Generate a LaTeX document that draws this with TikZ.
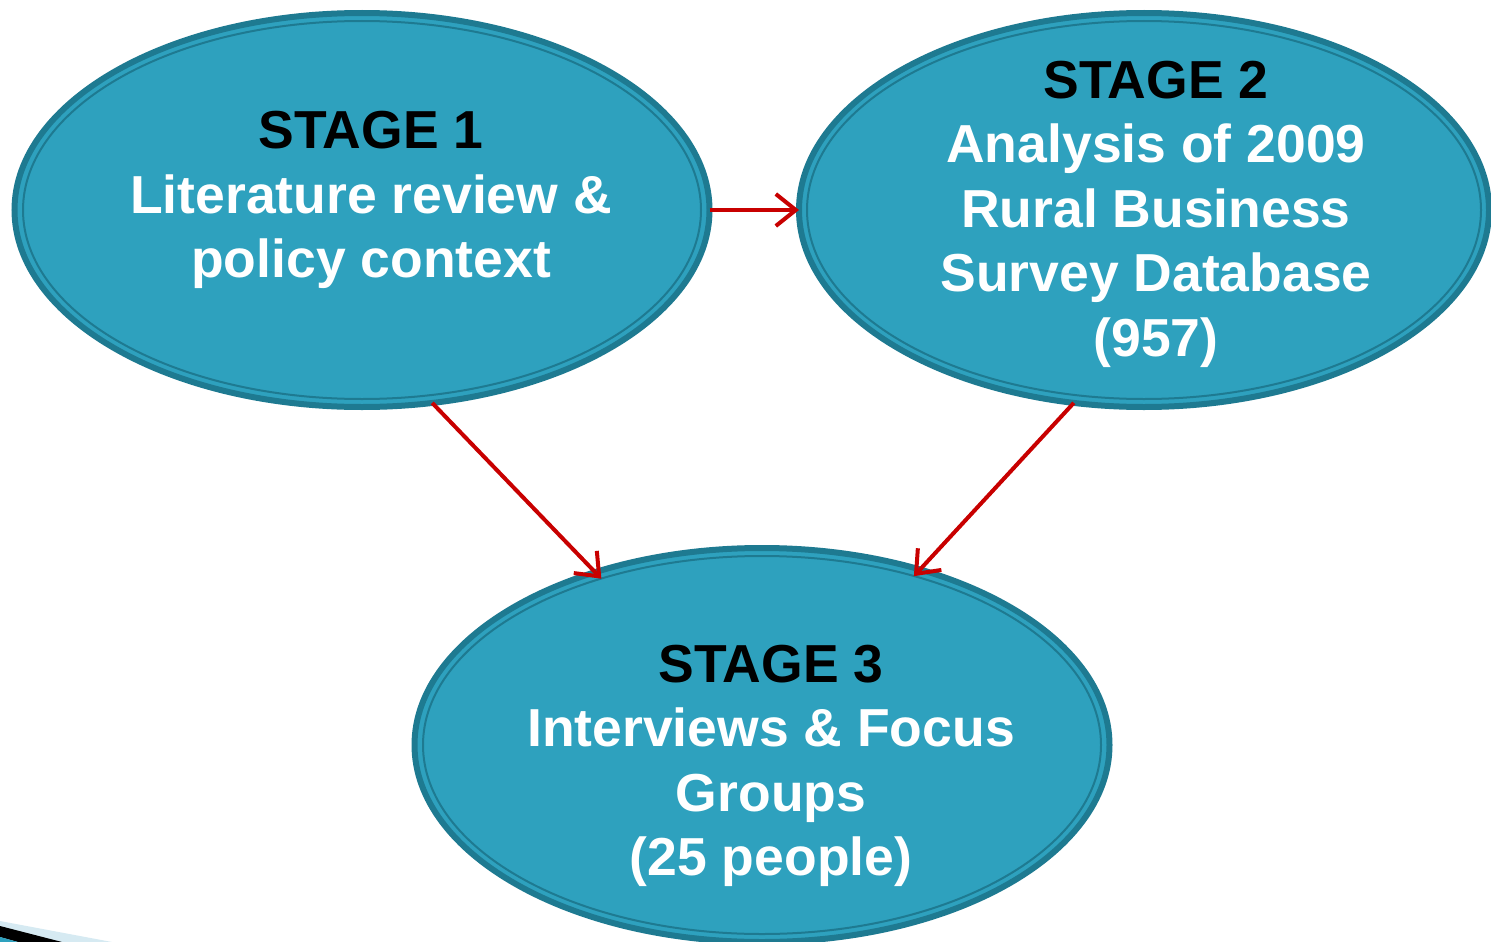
\documentclass[tikz,border=0pt]{standalone}
\usepackage{fontspec}
\setmainfont{Liberation Sans}
\usetikzlibrary{shapes.geometric,arrows.meta}
\definecolor{stagefill}{RGB}{46,161,190}
\definecolor{stageedge}{RGB}{30,122,145}
\definecolor{flowred}{RGB}{200,0,0}
\definecolor{paleblue}{RGB}{214,234,242}
\tikzset{
  stagebox/.style={ellipse, draw=stageedge, line width=6pt, fill=stagefill,
    inner sep=0pt, outer sep=0pt},
  innerring/.style={draw=stageedge, line width=2pt},
  stagetext/.style={align=center, text=white,
    font=\fontsize{53.5}{64.5}\selectfont\bfseries},
  flow/.style={draw=flowred, line width=4pt,
    -{Straight Barb[length=20pt,width=32pt,line width=4pt]}},
}
\begin{document}
\begin{tikzpicture}[x=1pt,y=-1pt]
\useasboundingbox (0,0) rectangle (1491,942);

% corner ornament
\fill[paleblue] (0,921) -- (112,942) -- (0,942) -- cycle;
\fill[black] (0,926) -- (62,942) -- (18,942) -- (0,937) -- cycle;
\fill[stagefill] (0,937) -- (18,942) -- (0,942) -- cycle;

% the three stages
\node[stagebox, minimum width=695pt, minimum height=394pt] (s1) at (362,210) {};
\node[stagebox, minimum width=690pt, minimum height=394pt] (s2) at (1144,210) {};
\node[stagebox, minimum width=695pt, minimum height=394pt] (s3) at (762,745) {};
\foreach \s/\rx/\ry in {s1/339/189, s2/337/189, s3/339/189}
  \draw[innerring] (\s.center) ellipse [x radius=\rx, y radius=\ry];

\node[stagetext] (t1) at (371,200)
  {\textcolor{black}{STAGE 1}\\Literature review \&\\policy context};
\node[stagetext] (t2) at (1156,214)
  {\textcolor{black}{STAGE 2}\\Analysis of 2009\\Rural Business\\Survey Database\\(957)};
\node[stagetext] (t3) at (771,766)
  {\textcolor{black}{STAGE 3}\\Interviews \& Focus\\Groups\\(25 people)};

% connectors
\draw[flow] (s1.east) -- (s2.west);
\draw[flow, shorten >=-9pt] (s1.-70) -- (s3.134);
\draw[flow, shorten >=-9pt] (s2.-110) -- (s3.48.5);
\end{tikzpicture}
\end{document}
